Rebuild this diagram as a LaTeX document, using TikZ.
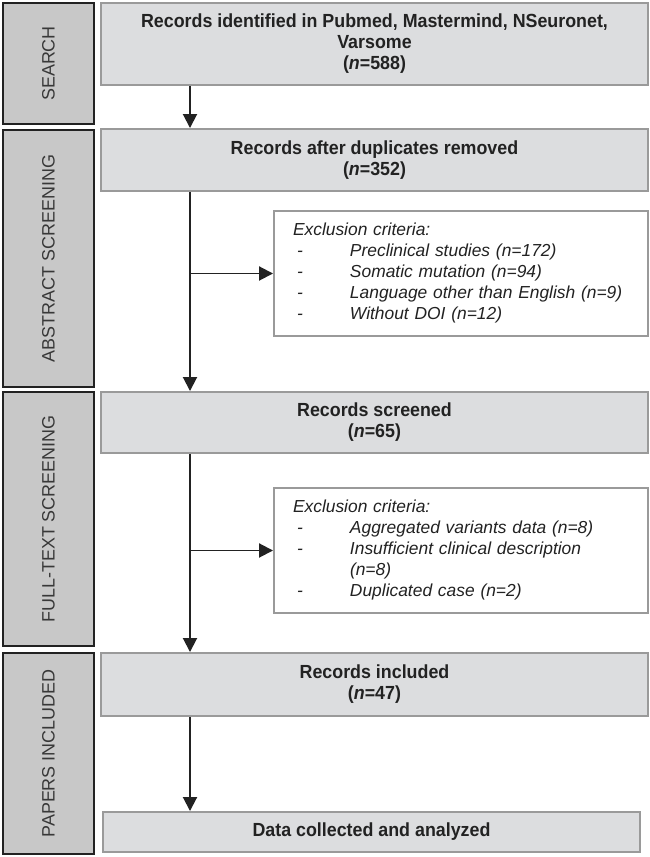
\documentclass[tikz,border=0pt]{standalone}
\usepackage{fontspec}
\setmainfont{Liberation Sans}
\newfontfamily\titlefont[FakeStretch=0.94]{Liberation Sans}
\usetikzlibrary{arrows.meta}

\definecolor{boxgray}{HTML}{DCDDDF}
\definecolor{bargray}{HTML}{C8C8C8}
\definecolor{edgegray}{HTML}{9A9A9A}
\definecolor{ink}{HTML}{222222}

\tikzset{
  stagebar/.style={draw=ink, line width=1.6pt, fill=bargray, rotate=90, minimum height=1.82cm, inner sep=0pt, text=ink!90, font=\fontsize{10.2}{12}\selectfont},
  mainbox/.style={draw=edgegray, line width=1.1pt, fill=boxgray, minimum width=10.94cm, inner sep=0pt, align=center, text=ink, font=\titlefont\bfseries\fontsize{10.8}{11.9}\selectfont},
  exclbox/.style={draw=edgegray, line width=1.1pt, fill=white, minimum height=2.5cm, text width=6.72cm, inner xsep=0.38cm, align=left, text=ink, font=\itshape\fontsize{9.9}{11.95}\selectfont},
  flow/.style={draw=ink, line width=1.1pt, -{Triangle[length=0.28cm,width=0.28cm]}},
}

\newcommand{\exitem}[1]{\hspace*{0.08cm}\makebox[1.06cm][l]{-}#1}

\begin{document}
\begin{tikzpicture}
\useasboundingbox (0,0) rectangle (13,17.14);

% stages on the left
\node[stagebar, minimum width=2.42cm] (search) at (0.97,15.87) {SEARCH};
\node[stagebar, minimum width=5.14cm] (abstract) at (0.97,11.97) {ABSTRACT SCREENING};
\node[stagebar, minimum width=5.08cm] (fulltext) at (0.97,6.76) {FULL-TEXT SCREENING};
\node[stagebar, minimum width=4.02cm] (included) at (0.97,2.07) {PAPERS INCLUDED};

% main boxes
\node[mainbox, minimum height=1.64cm] (found) at (7.49,16.26) {Records identified in Pubmed, Mastermind, NSeuronet,\\Varsome\\(\textit{n}=588)};
\node[mainbox, minimum height=1.24cm] (dedup) at (7.49,13.94) {Records after duplicates removed\\(\textit{n}=352)};
\node[mainbox, minimum height=1.22cm] (screened) at (7.49,8.69) {Records screened\\(\textit{n}=65)};
\node[mainbox, minimum height=1.26cm] (kept) at (7.49,3.45) {Records included\\(\textit{n}=47)};
\node[mainbox, minimum height=0.80cm, minimum width=10.74cm] (data) at (7.43,0.50) {Data collected and analyzed};

% exclusions
\node[exclbox] (excl1) at (9.22,11.67) {Exclusion criteria:\\
\exitem{Preclinical studies (n=172)}\\
\exitem{Somatic mutation (n=94)}\\
\exitem{Language other than English (n=9)}\\
\exitem{Without DOI (n=12)}};
\node[exclbox] (excl2) at (9.22,6.13) {Exclusion criteria:\\
\exitem{Aggregated variants data (n=8)}\\
\exitem{Insufficient clinical description}\\
\hspace*{1.14cm}(n=8)\\
\exitem{Duplicated case (n=2)}};

% arrows
\coordinate (spine) at (3.80,0);
\draw[flow] (found.south -| spine) -- (dedup.north -| spine);
\draw[flow] (dedup.south -| spine) -- (screened.north -| spine);
\draw[flow] (excl1.west -| spine) -- (excl1.west);
\draw[flow] (screened.south -| spine) -- (kept.north -| spine);
\draw[flow] (excl2.west -| spine) -- (excl2.west);
\draw[flow] (kept.south -| spine) -- (data.north -| spine);
\end{tikzpicture}
\end{document}
